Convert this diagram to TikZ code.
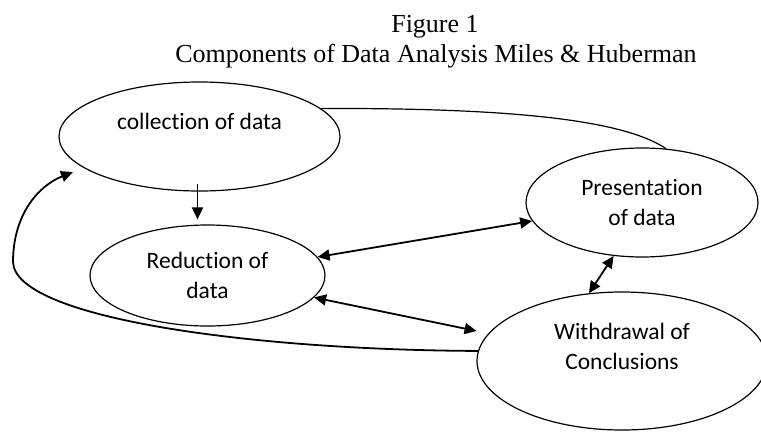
\documentclass[tikz,border=0pt]{standalone}
\usepackage{fontspec}
\setmainfont{Carlito}[Ligatures=NoCommon]
\newfontfamily\titlefont{Liberation Serif}
\usetikzlibrary{arrows.meta,shapes.geometric}

\begin{document}
\begin{tikzpicture}[x=1pt, y=-1pt,
    stage/.style={draw, ellipse, line width=1.2pt, inner sep=0pt, align=center, font=\fontsize{23.5}{30}\selectfont},
    heading/.style={font=\titlefont\fontsize{26}{30}\selectfont, anchor=base},
    arrow/.style={-{Triangle[length=12pt,width=11pt]}, line width=1.8pt},
    dblarrow/.style={{Triangle[length=12pt,width=11pt]}-{Triangle[length=12pt,width=11pt]}, line width=1.8pt}
]
    \useasboundingbox (0,0) rectangle (761,432);
    \clip (0,0) rectangle (761,432);

    % Title
    \node[heading] (fig) at (435, 32) {Figure 1};
    \node[heading] (title) at (436, 62) {Components of Data Analysis Miles \& Huberman};

    % Stages
    \node[stage, minimum width=281pt, minimum height=109pt] (coll) at (199.5, 136.5) {collection of data\\ \mbox{}};
    \node[stage, minimum width=235pt, minimum height=101pt] (red) at (207.5, 275.5) {Reduction of\\data};
    \node[stage, minimum width=232pt, minimum height=109pt] (pres) at (642, 202.5) {Presentation\\of data};
    \node[stage, minimum width=290pt, minimum height=138pt] (with) at (622, 361) {Withdrawal of\\Conclusions\\ \mbox{}};

    % Arrows
    \draw[arrow] ([xshift=-2pt, yshift=8pt]coll.south) -- ([xshift=-10pt, yshift=5pt]red.north);
    \draw[dblarrow] (red) -- (pres);
    \draw[dblarrow, shorten >=12pt] (red) -- (with);
    \draw[dblarrow] (pres.242) -- (with.116);

    % Feedback lines
    \draw[line width=1.8pt, -{Triangle[length=12pt,width=11pt]}] (with.176)
        .. controls (250, 350) and (15, 318) .. (13, 262)
        .. controls (13, 215) and (38, 186) .. (73, 172);
    \draw[line width=1.2pt] (coll.13) .. controls (500, 108) and (620, 118) .. (pres.66);
\end{tikzpicture}
\end{document}
